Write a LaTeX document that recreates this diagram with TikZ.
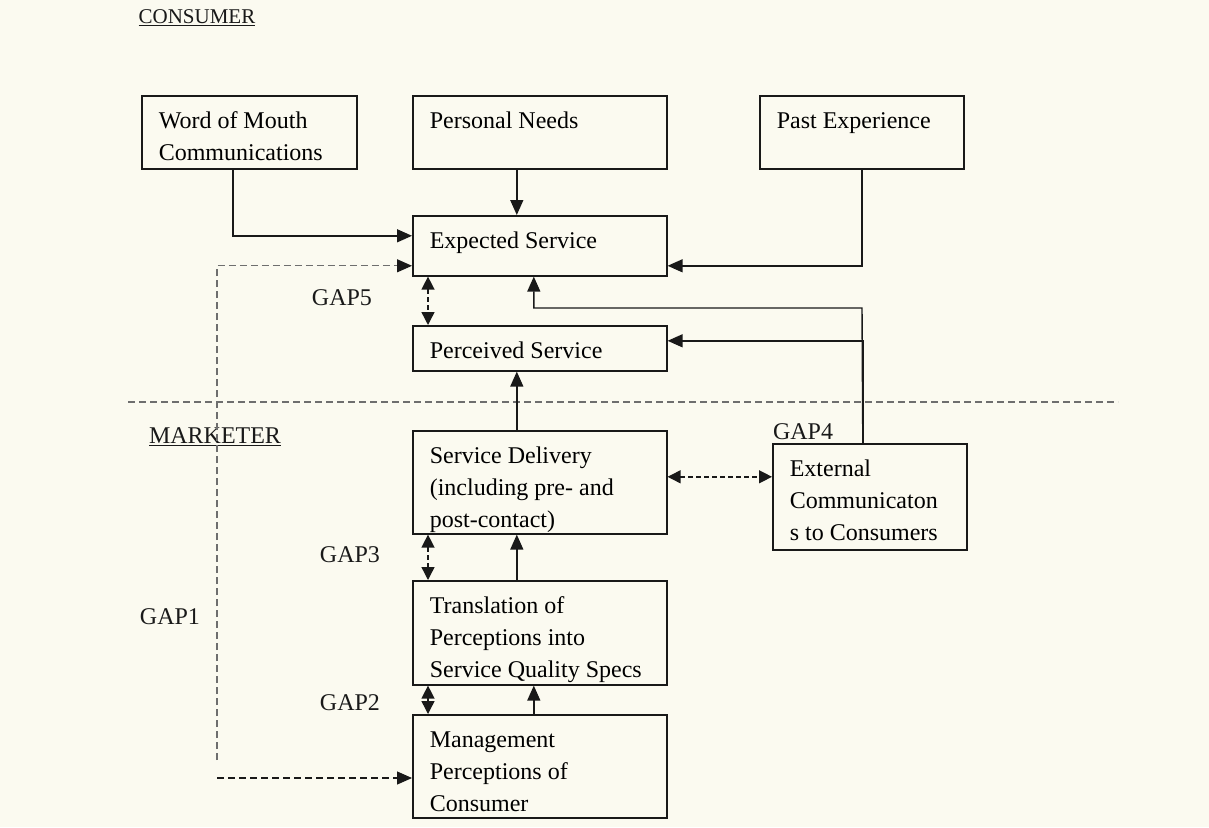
\documentclass[tikz,border=0pt]{standalone}
\usepackage{fontspec}
\setmainfont{Liberation Serif}
\usetikzlibrary{arrows.meta,calc}
\definecolor{paper}{RGB}{251,250,240}
\definecolor{ink}{RGB}{25,25,25}
\definecolor{dashink}{RGB}{110,110,110}
% box contents: width, height, text (top-left aligned)
\newcommand{\bxt}[3]{\parbox[c][#2pt][t]{#1pt}{\fontsize{24}{32}\selectfont\leftskip=17pt\relax\vspace*{10pt}\strut #3}}
\begin{document}
\begin{tikzpicture}[x=1pt,y=-1pt,
  tip/.style={-{Triangle[length=15pt,width=13pt,color=ink]}},
  bx/.style={draw=ink,line width=1.6pt,anchor=north west,inner sep=0pt},
  arr/.style={draw=ink,line width=1.4pt,tip},
  dbl/.style={draw=ink,line width=1.4pt,dash pattern=on 5pt off 3pt,
    {Triangle[length=13pt,width=13pt]}-{Triangle[length=13pt,width=13pt]}},
  dsh/.style={draw=dashink,line width=1.1pt,dash pattern=on 7pt off 4pt},
  lbl/.style={font=\fontsize{24}{28}\selectfont,text=ink,inner sep=0pt}]
\useasboundingbox[fill=paper] (0,0) rectangle (1209,827);

% headings
\node[lbl,font=\fontsize{21}{24}\selectfont] (cons) at (197,18) {\underline{CONSUMER}};
\node[lbl] (mark) at (215,437) {\underline{MARKETER}};

% consumer side boxes
\node[bx] (wom) at (141,95) {\bxt{215}{73}{Word of Mouth\\Communications}};
\node[bx] (pn)  at (412,95) {\bxt{254}{73}{Personal Needs}};
\node[bx] (pe)  at (759,95) {\bxt{204}{73}{Past Experience}};
\node[bx] (exp) at (412,215) {\bxt{254}{60}{Expected Service}};
\node[bx] (per) at (412,325) {\bxt{254}{45}{Perceived Service}};

% marketer side boxes
\node[bx] (sd)  at (412,430) {\bxt{254}{103}{Service Delivery\\(including pre- and\\post-contact)}};
\node[bx] (ext) at (772,443) {\bxt{194}{106}{External\\Communicaton\\s to Consumers}};
\node[bx] (tr)  at (412,580) {\bxt{254}{104}{Translation of\\Perceptions into\\Service Quality Specs}};
\node[bx] (mg)  at (412,714) {\bxt{254}{103}{Management\\Perceptions of\\Consumer}};

% gap labels
\node[lbl] (g5) at (342,298) {GAP5};
\node[lbl] (g4) at (803,432) {GAP4};
\node[lbl] (g3) at (350,555) {GAP3};
\node[lbl] (g2) at (350,703) {GAP2};
\node[lbl] (g1) at (170,617) {GAP1};

% consumer / marketer divider
\coordinate (dl) at (128,402);
\coordinate (dr) at (1118,402);
\draw[dsh] (dl) -- (dr);

% inputs to expected service
\draw[arr] ([xshift=-16.5pt]wom.south) |- ([yshift=10pt]exp.west);
\draw[arr] ([xshift=-23pt]pn.south) -- ([xshift=-23pt]exp.north);
\draw[arr] (pe.south) |- ([yshift=-20pt]exp.east);

% GAP1 path
\coordinate (g1a) at (217,760);
\coordinate (g1b) at (217,778);
\draw[dsh,tip] (g1a) |- ([yshift=-20pt]exp.west);
\draw[dsh,tip,draw=ink,line width=1.3pt] (g1b) -- (g1b -| mg.west);

% GAP5
\draw[dbl] ([xshift=16pt]exp.south west) -- ([xshift=16pt]per.north west);

% external communications feedback
\coordinate (jn) at (862,308);
\draw[arr] ([xshift=-7pt]ext.north) -- (jn) -| ([xshift=-6pt]exp.south);
\draw[arr] ([xshift=-7pt]ext.north) |- ([yshift=7.5pt]per.east);

% delivery chain
\draw[arr] ([xshift=-23pt]sd.north) -- ([xshift=-23pt]per.south);
\draw[dbl] ([yshift=5.5pt]sd.east) -- ([yshift=5.5pt]sd.east -| ext.west);
\draw[dbl] ([xshift=16pt]sd.south west) -- ([xshift=16pt]tr.north west);
\draw[arr] ([xshift=-23pt]tr.north) -- ([xshift=-23pt]sd.south);
\draw[dbl] ([xshift=16pt]tr.south west) -- ([xshift=16pt]mg.north west);
\draw[arr] ([xshift=-6pt]mg.north) -- ([xshift=-6pt]tr.south);
\end{tikzpicture}
\end{document}
